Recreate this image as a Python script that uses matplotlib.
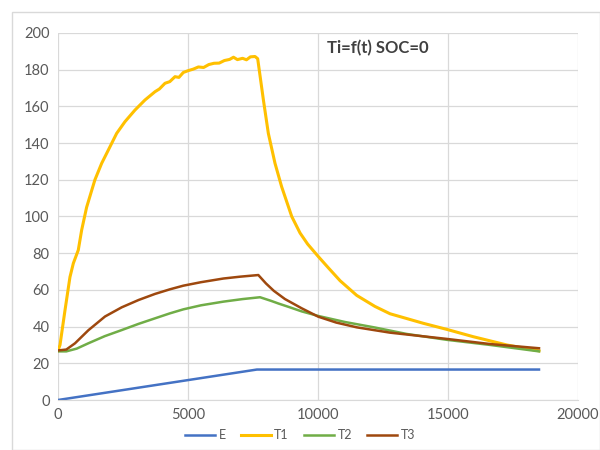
import matplotlib
matplotlib.use("Agg")
import matplotlib.pyplot as plt
from matplotlib.patches import Rectangle

plt.rcParams['font.family'] = ['Lato', 'DejaVu Sans']

# E series
e_t = [0, 7650, 18500]
e_v = [0, 16.6, 16.6]

# T1 series
t1_t = [0, 77, 270, 460, 590, 780, 910, 1100, 1300, 1420, 1680, 1935, 2256, 2577, 2960,
        3346, 3730, 3900, 4115, 4300, 4500, 4650, 4820, 5010, 5200, 5400, 5600, 5800, 6000,
        6200, 6400, 6600, 6750, 6900, 7100, 7250, 7400, 7577, 7680,
        7900, 8090, 8346, 8600, 8990, 9310, 9600, 10010, 10400, 10850, 11490, 12190, 12770, 14050,
        14950, 15970, 17260, 18500]
t1_v = [27, 30, 49, 67, 74.5, 81.7, 92.6, 105, 114.4, 120, 129, 136.2, 145.3, 151.7, 158,
        163.5, 168, 169.5, 172.6, 173.5, 176.2, 175.8, 178.5, 179.5, 180.3, 181.5, 181.2, 182.8, 183.5,
        183.6, 185, 185.6, 186.8, 185.5, 186.2, 185.4, 187, 187.2, 186,
        163.5, 145.3, 129, 116.3, 100, 91, 85, 78.2, 72, 65, 57, 51, 47, 41.8,
        38.5, 34.5, 30, 26.8]

# T2 series
t2_t = [0, 320, 720, 1167, 1800, 2450, 3100, 3730, 4300, 4820, 5500, 6360, 7100, 7770,
        8200, 8475, 8920, 9370, 10010, 11040, 12190, 13410, 14950, 16620, 18500]
t2_v = [26.5, 26.5, 28, 30.9, 34.8, 38.1, 41.5, 44.5, 47.2, 49.4, 51.6, 53.6, 55, 56,
        54, 52.6, 50.5, 48.3, 45.8, 42.5, 39.5, 36, 32.8, 30, 26.5]

# T3 series
t3_t = [0, 320, 654, 1167, 1808, 2450, 3100, 3730, 4300, 4820, 5500, 6360, 7000, 7705,
        8000, 8300, 8730, 9370, 10010, 10700, 11490, 12770, 14950, 16620, 18500]
t3_v = [27, 27.5, 30.9, 38, 45.5, 50.5, 54.5, 57.8, 60.3, 62.3, 64.2, 66.2, 67.2, 68.1,
        63.5, 59.5, 55, 50, 45.4, 42.2, 39.6, 36.7, 33.3, 30.5, 28.2]

x_ticks = [0, 5000, 10000, 15000, 20000]
y_ticks = [0, 20, 40, 60, 80, 100, 120, 140, 160, 180, 200]

fig = plt.figure(figsize=(6, 4.5), dpi=100)
ax = fig.add_axes([58/600, 1-400/450, 520/600, 367/450])

ax.plot(e_t, e_v, color='#4472C4', lw=1.8, label='E')
ax.plot(t1_t, t1_v, color='#FFC000', lw=2.2, label='T1')
ax.plot(t2_t, t2_v, color='#70AD47', lw=1.8, label='T2')
ax.plot(t3_t, t3_v, color='#9E480E', lw=1.8, label='T3')

ax.set_xlim(0, 20000)
ax.set_ylim(0, 200)
ax.set_xticks(x_ticks)
ax.set_yticks(y_ticks)
ax.grid(True, color='#D9D9D9', lw=0.9)
ax.set_axisbelow(True)
for s in ['top', 'right', 'left']:
    ax.spines[s].set_visible(False)
ax.spines['bottom'].set_color('#D9D9D9')
ax.tick_params(length=0, colors='#595959', labelsize=10.5, pad=6)

ax.text(0.615, 0.959, 'Ti=f(t) SOC=0', transform=ax.transAxes, ha='center', va='center',
        fontsize=12, fontweight='bold', color='#404040')

leg = fig.legend(loc='lower center', bbox_to_anchor=(0.5, -0.005), ncol=4, frameon=False,
                 fontsize=9, handlelength=2.4, columnspacing=1.2, handletextpad=0.3)
for t in leg.get_texts():
    t.set_color('#595959')

fig.patches.append(Rectangle((12/600, 0), 1 - 12/600, 1 - 12/450, transform=fig.transFigure,
                             fill=False, edgecolor='#D9D9D9', lw=1))

fig.savefig('out.png', dpi=100)
